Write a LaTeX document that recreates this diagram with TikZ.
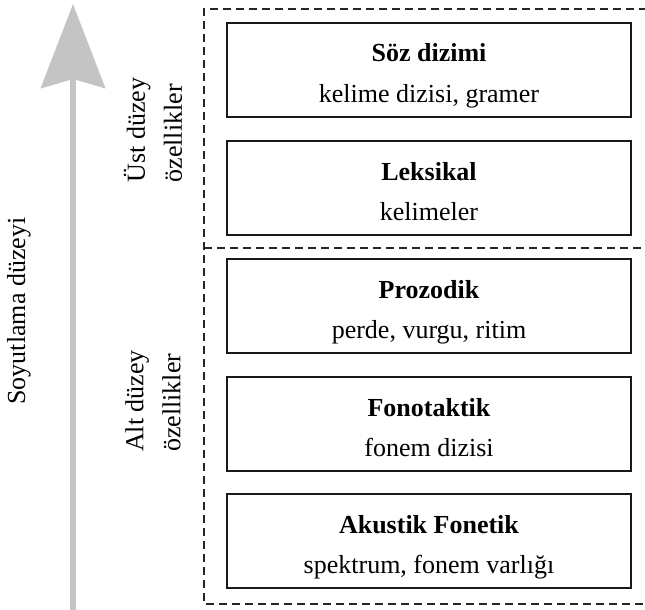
\documentclass[tikz,border=0pt]{standalone}
\usepackage{fontspec}
\setmainfont{Liberation Serif}
\usetikzlibrary{arrows.meta}
\definecolor{axisgray}{HTML}{C4C4C4}

\tikzset{
  layer/.style={draw=black!90, line width=1.4pt, minimum width=404pt, minimum height=94pt, inner sep=0pt},
  layertitle/.style={anchor=base, font=\fontsize{26}{30}\selectfont\bfseries},
  layertext/.style={anchor=base, font=\fontsize{26}{30}\selectfont},
  group/.style={dashed, dash pattern=on 8pt off 5pt, line width=1.3pt, black!85},
  grouplabel/.style={rotate=90, align=left, font=\fontsize{26}{37}\selectfont}
}

\begin{document}
\begin{tikzpicture}[x=1pt, y=-1pt]
  \useasboundingbox (0,0) rectangle (645,610);

  % Soyutlama ekseni
  \coordinate (axis-base) at (73,612);
  \coordinate (axis-tip) at (73,4);
  \draw[axisgray, line width=6pt, -{Stealth[length=84pt, width=64pt, inset=9pt]}] (axis-base) -- (axis-tip);
  \node[rotate=90, font=\fontsize{26}{30}\selectfont] (axis-label) at (19,311) {Soyutlama düzeyi};

  % Kesikli gruplar
  \draw[group] (660,9) -- (204,9) -- (204,604) -- (660,604);
  \draw[group] (204,248) -- (660,248);
  \node[grouplabel] (ust) at (153,130) {Üst düzey\\özellikler};
  \node[grouplabel] (alt) at (153,401) {Alt düzey\\özellikler};

  % Katmanlar
  \node[layer] (soz) at (429,70) {};
  \node[layertitle] (soz-t) at ([yshift=8pt]soz.center) {Söz dizimi};
  \node[layertext] (soz-a) at ([yshift=-32pt]soz.center) {kelime dizisi, gramer};

  \node[layer] (lek) at (429,188) {};
  \node[layertitle] (lek-t) at ([yshift=8pt]lek.center) {Leksikal};
  \node[layertext] (lek-a) at ([yshift=-32pt]lek.center) {kelimeler};

  \node[layer] (pro) at (429,306) {};
  \node[layertitle] (pro-t) at ([yshift=8pt]pro.center) {Prozodik};
  \node[layertext] (pro-a) at ([yshift=-32pt]pro.center) {perde, vurgu, ritim};

  \node[layer] (fon) at (429,424) {};
  \node[layertitle] (fon-t) at ([yshift=8pt]fon.center) {Fonotaktik};
  \node[layertext] (fon-a) at ([yshift=-32pt]fon.center) {fonem dizisi};

  \node[layer] (aku) at (429,541) {};
  \node[layertitle] (aku-t) at ([yshift=8pt]aku.center) {Akustik Fonetik};
  \node[layertext] (aku-a) at ([yshift=-32pt]aku.center) {spektrum, fonem varlığı};
\end{tikzpicture}
\end{document}
